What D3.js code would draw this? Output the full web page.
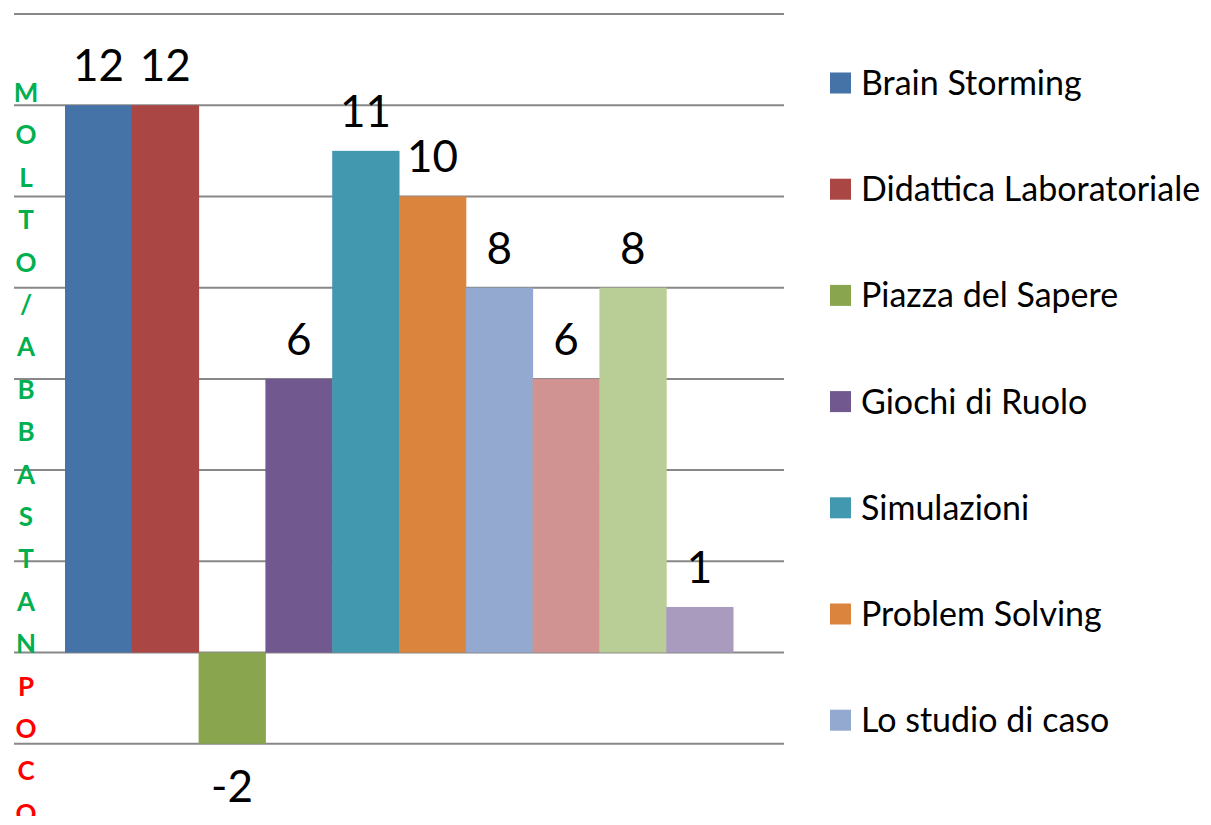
<!DOCTYPE html>
<html>
<head>
<meta charset="utf-8">
<script src="https://cdn.jsdelivr.net/npm/d3@7"></script>
<style>
  body { margin: 0; background: #fff; }
  svg { display: block; font-family: Lato, 'Open Sans', sans-serif; }
</style>
</head>
<body>
<svg id="chart" width="1211" height="825"></svg>
<script>
'use strict';

// values, one bar per method
var values = [12, 12, -2, 6, 11, 10, 8, 6, 8, 1];
var colors = ['#4572a7', '#aa4643', '#89a54e', '#71588f', '#4198af',
    '#db843d', '#93a9cf', '#d19392', '#b9cd96', '#a99bbd'];
// only the first seven legend entries are visible
var legendNames = ['Brain Storming', 'Didattica Laboratoriale', 'Piazza del Sapere',
    'Giochi di Ruolo', 'Simulazioni', 'Problem Solving', 'Lo studio di caso'];
var yTicks = [-4, -2, 0, 2, 4, 6, 8, 10, 12, 14];
var axisGreen = 'MOLTO/ABBASTAN'.split('');
var axisRed = 'POCO'.split('');

var svg = d3.select('#chart');

// the picture is cut off a little above the bottom edge
svg.append('clipPath')
    .attr('id', 'cut')
    .append('rect')
    .attr('width', 1211)
    .attr('height', 816);

var root = svg.append('g').attr('clip-path', 'url(#cut)');

var x = d3.scaleBand()
    .domain(d3.range(values.length))
    .range([65, 733])
    .padding(0);

var y = d3.scaleLinear()
    .domain([-4, 14])
    .range([835, 14]);

// gridlines
root.append('g')
    .selectAll('line')
    .data(yTicks)
    .enter().append('line')
    .attr('x1', 14)
    .attr('x2', 784)
    .attr('y1', function(d) { return y(d); })
    .attr('y2', function(d) { return y(d); })
    .style('stroke', '#888')
    .style('stroke-width', 2);

// bars
root.append('g')
    .selectAll('rect')
    .data(values)
    .enter().append('rect')
    .attr('x', function(d, i) { return x(i); })
    .attr('width', x.bandwidth() + 0.5)
    .attr('y', function(d) { return y(Math.max(0, d)); })
    .attr('height', function(d) { return Math.abs(y(d) - y(0)); })
    .attr('fill', function(d, i) { return colors[i]; });

// value labels
root.append('g')
    .selectAll('text')
    .data(values)
    .enter().append('text')
    .attr('x', function(d, i) { return x(i) + x.bandwidth() / 2; })
    .attr('y', function(d) { return d >= 0 ? y(d) - 24 : y(d) + 58; })
    .attr('text-anchor', 'middle')
    .style('font-size', '44px')
    .style('fill', '#000')
    .text(function(d) { return d; });

// vertical axis title, one letter per line
var letters = axisGreen.map(function(c) { return { c: c, col: '#00b050' }; })
    .concat(axisRed.map(function(c) { return { c: c, col: '#ff0000' }; }));

root.append('g')
    .selectAll('text')
    .data(letters)
    .enter().append('text')
    .attr('x', 26)
    .attr('y', function(d, i) { return 102 + i * 42.4; })
    .attr('text-anchor', 'middle')
    .style('font-size', '26px')
    .style('font-weight', 'bold')
    .style('fill', function(d) { return d.col; })
    .text(function(d) { return d.c; });

// legend
var legend = root.append('g')
    .selectAll('g')
    .data(legendNames)
    .enter().append('g')
    .attr('transform', function(d, i) { return 'translate(830,' + (83 + i * 106.2) + ')'; });

legend.append('rect')
    .attr('x', 0)
    .attr('y', -10.5)
    .attr('width', 21)
    .attr('height', 21)
    .attr('fill', function(d, i) { return colors[i]; });

legend.append('text')
    .attr('x', 31)
    .attr('y', 12)
    .style('font-size', '34px')
    .style('fill', '#000')
    .text(function(d) { return d; });
</script>
</body>
</html>
